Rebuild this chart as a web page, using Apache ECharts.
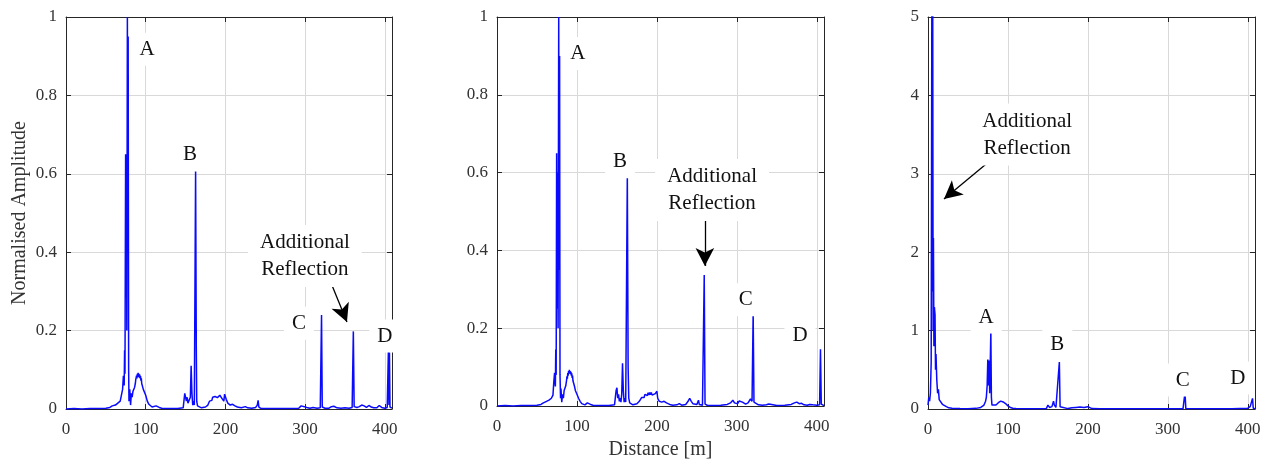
<!DOCTYPE html>
<html>
<head>
<meta charset="utf-8">
<script src="https://cdn.jsdelivr.net/npm/echarts@6/dist/echarts.min.js"></script>
<style>
html,body{margin:0;padding:0;background:#fff;}
#chart{width:1269px;height:465px;}
</style>
</head>
<body>
<div id="chart"></div>
<script>
// ---- data (distance [m], amplitude) ----
const panel1Trace = [[0,0],[10,0.001],[20,0],[30,0.001],[40,0.001],[50,0.002],[55,0.004],[58,0.008],[62,0.01],[65,0.015],[68,0.02],[70,0.025],[71,0.05],[72,0.085],[73,0.06],[73.5,0.15],[74,0.09],[74.8,0.65],[75.3,0.3],[75.8,0.62],[76.3,0.2],[77,1.0],[77.6,0.4],[78,0.95],[78.6,0.1],[79,0.02],[80,0.05],[81,0.01],[82,0.04],[83,0.03],[84,0.045],[85,0.04],[86,0.055],[87,0.065],[87.5,0.075],[88,0.07],[88.5,0.085],[89,0.078],[89.5,0.09],[90,0.082],[90.5,0.092],[91,0.084],[91.5,0.09],[92,0.08],[92.5,0.088],[93,0.078],[93.5,0.084],[94,0.072],[94.5,0.078],[95,0.065],[96,0.06],[97,0.05],[98,0.045],[100,0.035],[102,0.02],[104,0.012],[106,0.008],[108,0.005],[110,0.003],[113,0.008],[115,0.01],[117,0.004],[120,0.002],[130,0.001],[140,0.001],[147,0.003],[149,0.04],[150,0.045],[151,0.02],[152,0.03],[153,0.015],[154,0.02],[155,0.012],[156,0.03],[157,0.11],[158,0.04],[159,0.01],[160,0.02],[161,0.01],[162.6,0.61],[163.5,0.15],[164,0.02],[165,0.008],[167,0.005],[170,0.003],[175,0.005],[178,0.01],[180,0.02],[182,0.025],[183,0.022],[184,0.03],[186,0.026],[187,0.032],[188,0.028],[189,0.035],[190,0.029],[191,0.034],[192,0.028],[193,0.035],[194,0.03],[195,0.034],[196,0.026],[198,0.02],[199,0.038],[200,0.04],[201,0.025],[203,0.015],[206,0.01],[209,0.012],[212,0.008],[215,0.005],[220,0.003],[225,0.006],[228,0.003],[233,0.002],[238,0.004],[240,0.01],[241,0.022],[242,0.005],[245,0.001],[260,0.001],[280,0.001],[292,0.002],[295,0.008],[297,0.01],[299,0.006],[302,0.004],[306,0.002],[310,0.004],[315,0.002],[319,0.003],[320.6,0.24],[321.5,0.005],[325,0.002],[330,0.002],[333,0.006],[336,0.007],[340,0.003],[345,0.002],[350,0.003],[355,0.002],[359,0.004],[360.5,0.198],[361.5,0.006],[365,0.004],[368,0.006],[371,0.01],[374,0.008],[377,0.004],[380,0.009],[383,0.005],[386,0.003],[390,0.003],[393,0.009],[396,0.004],[400,0.002],[403,0.004],[404.5,0.15],[405.2,0.01],[405.8,0.145],[406.5,0.005],[409,0.002]];

const panel2Trace = [[0,0],[10,0.001],[20,0],[30,0.001],[40,0.001],[50,0.002],[55,0.004],[58,0.008],[62,0.012],[65,0.015],[68,0.02],[70,0.028],[71,0.06],[72,0.085],[73,0.05],[73.5,0.145],[74,0.08],[74.6,0.65],[75.2,0.25],[75.8,0.6],[76.4,0.2],[77.2,1.0],[77.8,0.35],[78.3,0.9],[78.8,0.08],[79.5,0.02],[80,0.045],[81,0.01],[82,0.03],[83,0.02],[84,0.04],[85,0.038],[86,0.052],[87,0.066],[87.5,0.076],[88,0.07],[88.5,0.085],[89,0.078],[89.5,0.09],[90,0.083],[90.5,0.093],[91,0.084],[91.5,0.09],[92,0.082],[92.5,0.088],[93,0.078],[93.5,0.084],[94,0.072],[94.5,0.078],[95,0.065],[96,0.06],[97,0.05],[98,0.04],[100,0.03],[102,0.02],[104,0.012],[106,0.006],[110,0.003],[113,0.008],[115,0.01],[117,0.004],[120,0.002],[130,0.001],[140,0.001],[147,0.003],[149,0.04],[150,0.047],[151,0.02],[152,0.03],[153,0.012],[154,0.02],[155,0.01],[156,0.03],[157,0.11],[158,0.04],[159,0.01],[160,0.02],[161,0.01],[163,0.595],[164,0.1],[164.8,0.02],[166,0.008],[170,0.003],[175,0.006],[178,0.012],[181,0.022],[183,0.026],[184,0.022],[185,0.03],[186,0.026],[187,0.033],[188,0.027],[189,0.034],[190,0.028],[191,0.035],[192,0.029],[193,0.035],[194,0.028],[196,0.025],[198,0.032],[200,0.038],[201,0.02],[203,0.012],[206,0.01],[209,0.012],[212,0.008],[216,0.004],[220,0.002],[225,0.003],[228,0.006],[231,0.002],[236,0.004],[239,0.012],[241,0.02],[243,0.012],[245,0.006],[247,0.003],[250,0.004],[252,0.015],[253,0.004],[257,0.002],[259.2,0.337],[260.2,0.005],[263,0.002],[270,0.001],[280,0.002],[288,0.004],[292,0.008],[295,0.015],[297,0.008],[299,0.012],[301,0.006],[303,0.013],[305,0.008],[307,0.01],[309,0.013],[311,0.005],[314,0.008],[317,0.018],[319,0.012],[320.4,0.24],[321.4,0.01],[323,0.005],[327,0.003],[332,0.002],[337,0.003],[340,0.005],[342,0.002],[350,0.001],[360,0.002],[368,0.004],[372,0.008],[375,0.01],[378,0.006],[381,0.007],[384,0.003],[388,0.002],[391,0.004],[393,0.008],[395,0.003],[400,0.002],[403.5,0.003],[404.6,0.146],[405.6,0.005],[407,0.002],[409,0.001]];

const panel3Trace = [[0,0.05],[1,0.15],[2,0.1],[3,0.2],[4,0.6],[4.8,5.2],[5.4,1.5],[5.9,5.2],[6.4,1.0],[6.8,2.18],[7.4,0.8],[8,1.3],[8.8,1.2],[9.4,0.5],[10,0.7],[11,0.37],[12,0.2],[13,0.25],[14,0.12],[16,0.1],[18,0.06],[20,0.05],[23,0.03],[26,0.015],[30,0.01],[40,0.005],[50,0.004],[60,0.008],[66,0.02],[70,0.05],[72,0.1],[73,0.15],[74,0.3],[74.8,0.63],[75.5,0.3],[76.4,0.62],[77.2,0.2],[78.6,0.99],[79.3,0.15],[80,0.05],[82,0.03],[85,0.05],[88,0.08],[91,0.1],[94,0.09],[97,0.07],[100,0.04],[103,0.02],[106,0.01],[110,0.005],[130,0.003],[148,0.005],[150,0.05],[152,0.02],[155,0.03],[157,0.1],[158,0.05],[160,0.02],[162,0.03],[164.3,0.6],[165.2,0.03],[167,0.01],[175,0.005],[180,0.015],[185,0.02],[190,0.025],[195,0.02],[200,0.03],[202,0.015],[205,0.005],[215,0.003],[240,0.004],[260,0.002],[300,0.003],[319,0.004],[321.4,0.21],[322.5,0.005],[340,0.002],[380,0.004],[400,0.01],[403,0.03],[404.5,0.02],[405.9,0.136],[406.8,0.01],[409,0.005]];

// tick labels
const xTicks = [0, 100, 200, 300, 400];
const yTicksA = [0, 0.2, 0.4, 0.6, 0.8, 1];
const yTicksB = [0, 1, 2, 3, 4, 5];

// annotation texts
const labelTexts = ['A', 'B', 'C', 'D', 'Additional\nReflection'];
// annotation anchors (data coordinates) per panel
const notes1 = [[101.6,0.918],[155.5,0.648],[292.2,0.219],[400,0.186],[299.7,0.39]];
const notes2 = [[101,0.906],[154,0.628],[311,0.273],[379,0.181],[269,0.555]];
const notes3 = [[72.7,1.173],[161.8,0.829],[318.5,0.37],[387.5,0.395],[124,3.5]];
const arrow1 = [[331,0.329],[352.5,0.222]];
const arrow2 = [[260,0.492],[260,0.36]];
const arrow3 = [[80.3,3.19],[20,2.68]];

const SERIF = '"Liberation Serif","DejaVu Serif",serif';
const grids = [
  {left: 66, right: 877, top: 17, bottom: 56},
  {left: 497, right: 445, top: 17, bottom: 56},
  {left: 928, right: 14, top: 17, bottom: 56}
];
const boxColor = '#262626';
const gridColor = '#d9d9d9';

const xAxes = [], yAxes = [], series = [];
const traces = [panel1Trace, panel2Trace, panel3Trace];
const notes = [notes1, notes2, notes3];
const arrows = [arrow1, arrow2, arrow3];
grids.forEach((g, i) => {
  const ymax = i === 2 ? 5 : 1;
  const yint = i === 2 ? 1 : 0.2;
  xAxes.push({
    type: 'value', gridIndex: i, min: 0, max: 409, interval: 100, position: 'bottom',
    axisLine: {show: true, onZero: false, lineStyle: {color: boxColor, width: 1}},
    axisTick: {show: true, inside: true, length: 5, lineStyle: {color: boxColor}},
    axisLabel: {show: true, color: '#333', fontFamily: SERIF, fontSize: 17, margin: 12,
      formatter: v => (xTicks.indexOf(v) >= 0 ? String(v) : '')},
    splitLine: {show: true, lineStyle: {color: gridColor, width: 1}},
    name: i === 1 ? 'Distance [m]' : '', nameLocation: 'middle', nameGap: 34,
    nameTextStyle: {fontFamily: SERIF, fontSize: 20, color: '#333'}
  });
  xAxes.push({
    type: 'value', gridIndex: i, min: 0, max: 409, interval: 100, position: 'top',
    axisLine: {show: true, onZero: false, lineStyle: {color: boxColor, width: 1}},
    axisTick: {show: true, inside: true, length: 5, lineStyle: {color: boxColor}},
    axisLabel: {show: false}, splitLine: {show: false}
  });
  const yt = i === 2 ? yTicksB : yTicksA;
  yAxes.push({
    type: 'value', gridIndex: i, min: 0, max: ymax, interval: yint, position: 'left',
    axisLine: {show: true, onZero: false, lineStyle: {color: boxColor, width: 1}},
    axisTick: {show: true, inside: true, length: 5, lineStyle: {color: boxColor}},
    axisLabel: {show: true, color: '#333', fontFamily: SERIF, fontSize: 17, margin: 9,
      formatter: v => { const m = yt.find(t => Math.abs(t - v) < 1e-9); return m === undefined ? '' : String(m); }},
    splitLine: {show: true, lineStyle: {color: gridColor, width: 1}},
    name: i === 0 ? 'Normalised Amplitude' : '', nameLocation: 'middle', nameGap: 36, nameRotate: 90,
    nameTextStyle: {fontFamily: SERIF, fontSize: 20, color: '#333'}
  });
  yAxes.push({
    type: 'value', gridIndex: i, min: 0, max: ymax, interval: yint, position: 'right',
    axisLine: {show: true, onZero: false, lineStyle: {color: boxColor, width: 1}},
    axisTick: {show: true, inside: true, length: 5, lineStyle: {color: boxColor}},
    axisLabel: {show: false}, splitLine: {show: false}
  });
  series.push({
    type: 'line', xAxisIndex: i * 2, yAxisIndex: i * 2, data: traces[i],
    showSymbol: false, symbol: 'none', clip: true, sampling: null,
    lineStyle: {color: '#0a0aff', width: 1.5}, itemStyle: {color: '#0a0aff'},
    silent: true, z: 3,
    markPoint: {
      silent: true, symbol: 'circle', symbolSize: 0,
      itemStyle: {color: 'rgba(0,0,0,0)'},
      label: {show: true, position: 'inside', fontFamily: SERIF, fontSize: 21, color: '#111',
        lineHeight: 27, backgroundColor: '#fff', padding: [3, 8], formatter: p => p.name},
      data: notes[i].map((c, k) => ({coord: c, name: labelTexts[k],
        label: k === 4 ? {padding: [4, 12]} : undefined}))
    },
    markLine: {
      silent: true, animation: false, precision: 3,
      lineStyle: {color: '#000', width: 1.3, type: 'solid'},
      label: {show: false},
      symbolSize: [14, 18],
      data: [[{coord: arrows[i][0], symbol: 'none'}, {coord: arrows[i][1], symbol: 'arrow'}]]
    }
  });
});

const chart = echarts.init(document.getElementById('chart'), null, {renderer: 'canvas'});
chart.setOption({
  animation: false,
  backgroundColor: '#fff',
  grid: grids,
  xAxis: xAxes,
  yAxis: yAxes,
  series: series
});
</script>
</body>
</html>
